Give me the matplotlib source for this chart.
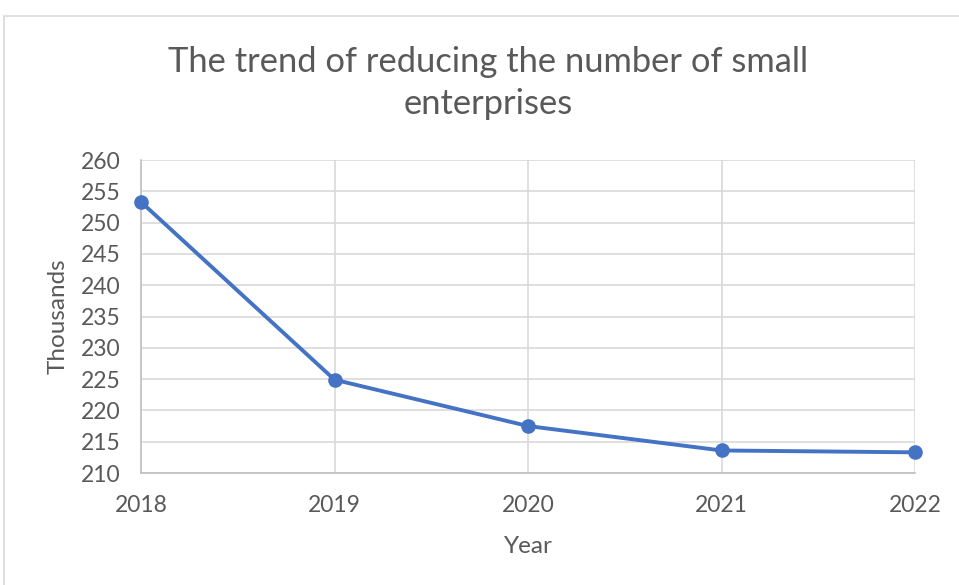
import matplotlib
matplotlib.use("Agg")
import matplotlib.pyplot as plt
from matplotlib.patches import Rectangle

years = [2018, 2019, 2020, 2021, 2022]
values = [253.3, 224.9, 217.5, 213.6, 213.3]
y_ticks = [210, 215, 220, 225, 230, 235, 240, 245, 250, 255, 260]

plt.rcParams['font.family'] = ['Lato', 'DejaVu Sans']
txt = '#595959'

fig = plt.figure(figsize=(9.59, 5.85), dpi=100)
fig.patches.append(Rectangle((4/959, -0.05), 1.1, 1.05 - 16/585, transform=fig.transFigure,
                             fill=False, edgecolor='#d9d9d9', linewidth=1.2))

ax = fig.add_axes([141/959, 1 - 473/585, 774/959, 313/585])
ax.plot(years, values, color='#4472C4', linewidth=2.8, marker='o', markersize=9.5,
        zorder=3, clip_on=False)
ax.set_xlim(2018, 2022)
ax.set_ylim(210, 260)
ax.set_xticks(years)
ax.set_yticks(y_ticks)
ax.grid(True, color='#d9d9d9', linewidth=1.2)
ax.set_axisbelow(True)
for s in ['top', 'right']:
    ax.spines[s].set_visible(False)
for s in ['left', 'bottom']:
    ax.spines[s].set_color('#bfbfbf')
    ax.spines[s].set_linewidth(1.2)
ax.tick_params(length=0, labelsize=16.5, colors=txt)
ax.tick_params(axis='y', pad=14.5)
ax.tick_params(axis='x', pad=16)
ax.set_xlabel('Year', fontsize=17.5, color=txt, labelpad=14)
ax.set_ylabel('Thousands', fontsize=17.5, color=txt, labelpad=9)
fig.text(0.509, 1 - 83/585, 'The trend of reducing the number of small\nenterprises',
         ha='center', va='center', fontsize=24.8, color=txt, linespacing=1.4)

fig.savefig('out.png', dpi=100)
